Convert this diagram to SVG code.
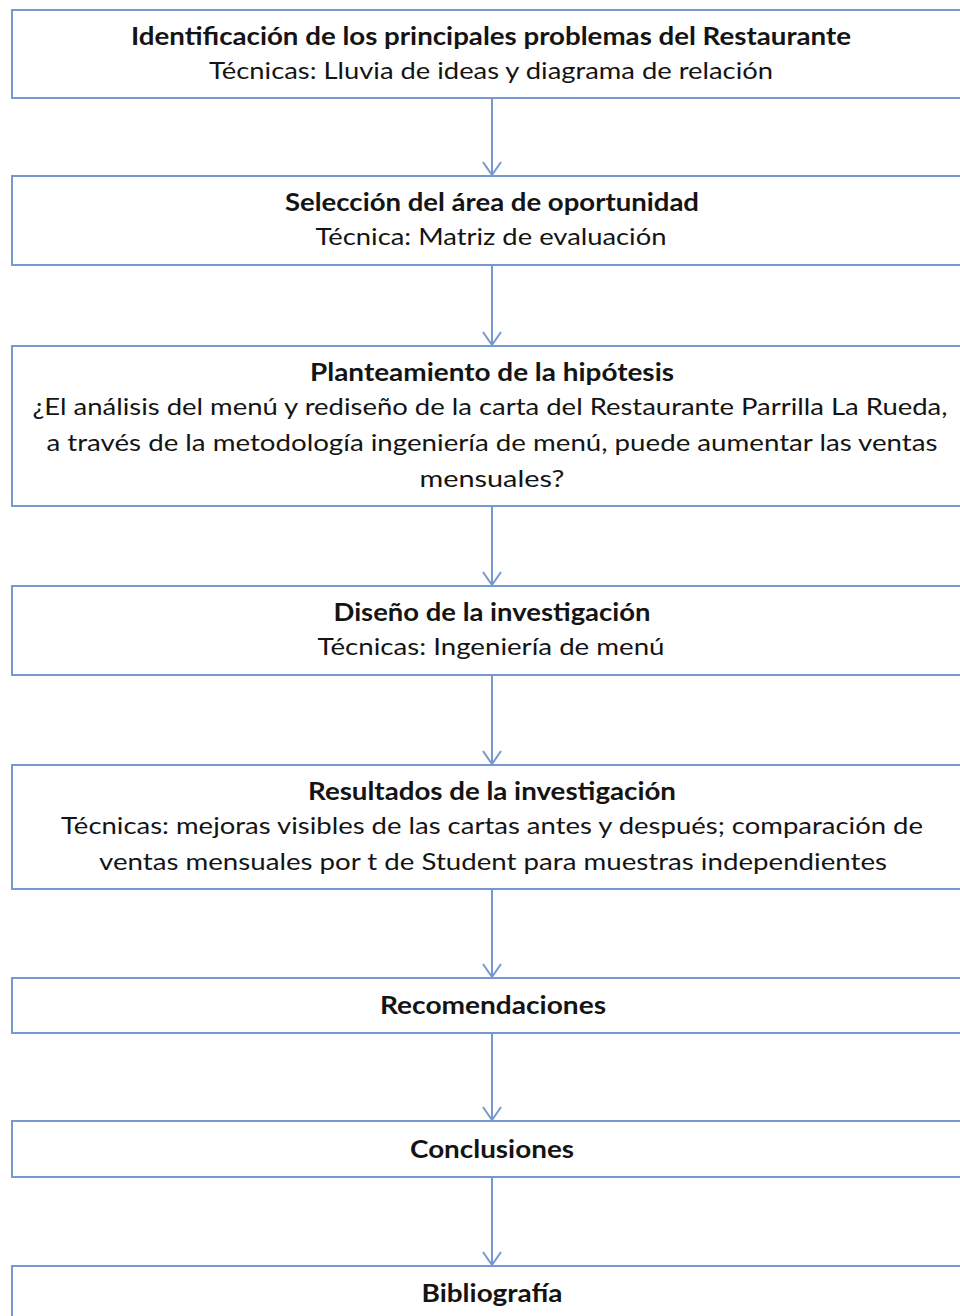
<svg xmlns="http://www.w3.org/2000/svg" width="960" height="1316" viewBox="0 0 960 1316">
<style>
.box{fill:#fff;stroke:#7598cf;stroke-width:2}
text{font-family:Lato,"Open Sans","Liberation Sans",sans-serif;font-size:24px;fill:#141414;text-anchor:middle}
.b{font-weight:bold}
.con{stroke:#7598cf;stroke-width:2;fill:none}
</style>
<defs>
<marker id="ah" markerWidth="16" markerHeight="22" refX="14" refY="11" orient="auto" markerUnits="userSpaceOnUse" viewBox="0 0 16 22">
<path d="M1 2 L14 11 L1 20" fill="none" stroke="#7598cf" stroke-width="2"/>
</marker>
</defs>
<rect width="960" height="1316" fill="#fff"/>
<g id="connectors">
<line class="con" x1="492" y1="99" x2="492" y2="175" marker-end="url(#ah)"/>
<line class="con" x1="492" y1="265" x2="492" y2="345" marker-end="url(#ah)"/>
<line class="con" x1="492" y1="507" x2="492" y2="585" marker-end="url(#ah)"/>
<line class="con" x1="492" y1="676" x2="492" y2="764" marker-end="url(#ah)"/>
<line class="con" x1="492" y1="890" x2="492" y2="977" marker-end="url(#ah)"/>
<line class="con" x1="492" y1="1034" x2="492" y2="1120" marker-end="url(#ah)"/>
<line class="con" x1="492" y1="1178" x2="492" y2="1265" marker-end="url(#ah)"/>
</g>
<g id="n1">
<rect class="box" x="12" y="10" width="960" height="88"/>
<text class="b" x="491" y="45" textLength="720" lengthAdjust="spacingAndGlyphs">Identificación de los principales problemas del Restaurante</text>
<text x="491" y="79" textLength="564" lengthAdjust="spacingAndGlyphs">Técnicas: Lluvia de ideas y diagrama de relación</text>
</g>
<g id="n2">
<rect class="box" x="12" y="176" width="960" height="89"/>
<text class="b" x="492" y="211" textLength="414" lengthAdjust="spacingAndGlyphs">Selección del área de oportunidad</text>
<text x="491" y="245" textLength="351" lengthAdjust="spacingAndGlyphs">Técnica: Matriz de evaluación</text>
</g>
<g id="n3">
<rect class="box" x="12" y="346" width="960" height="160"/>
<text class="b" x="492" y="381" textLength="364" lengthAdjust="spacingAndGlyphs">Planteamiento de la hipótesis</text>
<text x="490" y="415" textLength="915" lengthAdjust="spacingAndGlyphs">¿El análisis del menú y rediseño de la carta del Restaurante Parrilla La Rueda,</text>
<text x="492" y="451" textLength="891" lengthAdjust="spacingAndGlyphs">a través de la metodología ingeniería de menú, puede aumentar las ventas</text>
<text x="492" y="487" textLength="145" lengthAdjust="spacingAndGlyphs">mensuales?</text>
</g>
<g id="n4">
<rect class="box" x="12" y="586" width="960" height="89"/>
<text class="b" x="492" y="621" textLength="317" lengthAdjust="spacingAndGlyphs">Diseño de la investigación</text>
<text x="491" y="655" textLength="347" lengthAdjust="spacingAndGlyphs">Técnicas: Ingeniería de menú</text>
</g>
<g id="n5">
<rect class="box" x="12" y="765" width="960" height="124"/>
<text class="b" x="492" y="800" textLength="368" lengthAdjust="spacingAndGlyphs">Resultados de la investigación</text>
<text x="492" y="834" textLength="862" lengthAdjust="spacingAndGlyphs">Técnicas: mejoras visibles de las cartas antes y después; comparación de</text>
<text x="493" y="870" textLength="788" lengthAdjust="spacingAndGlyphs">ventas mensuales por t de Student para muestras independientes</text>
</g>
<g id="n6">
<rect class="box" x="12" y="978" width="960" height="55"/>
<text class="b" x="493" y="1014" textLength="226" lengthAdjust="spacingAndGlyphs">Recomendaciones</text>
</g>
<g id="n7">
<rect class="box" x="12" y="1121" width="960" height="56"/>
<text class="b" x="492" y="1158" textLength="164" lengthAdjust="spacingAndGlyphs">Conclusiones</text>
</g>
<g id="n8">
<rect class="box" x="12" y="1266" width="960" height="80"/>
<text class="b" x="492" y="1302" textLength="141" lengthAdjust="spacingAndGlyphs">Bibliografía</text>
</g>
</svg>
